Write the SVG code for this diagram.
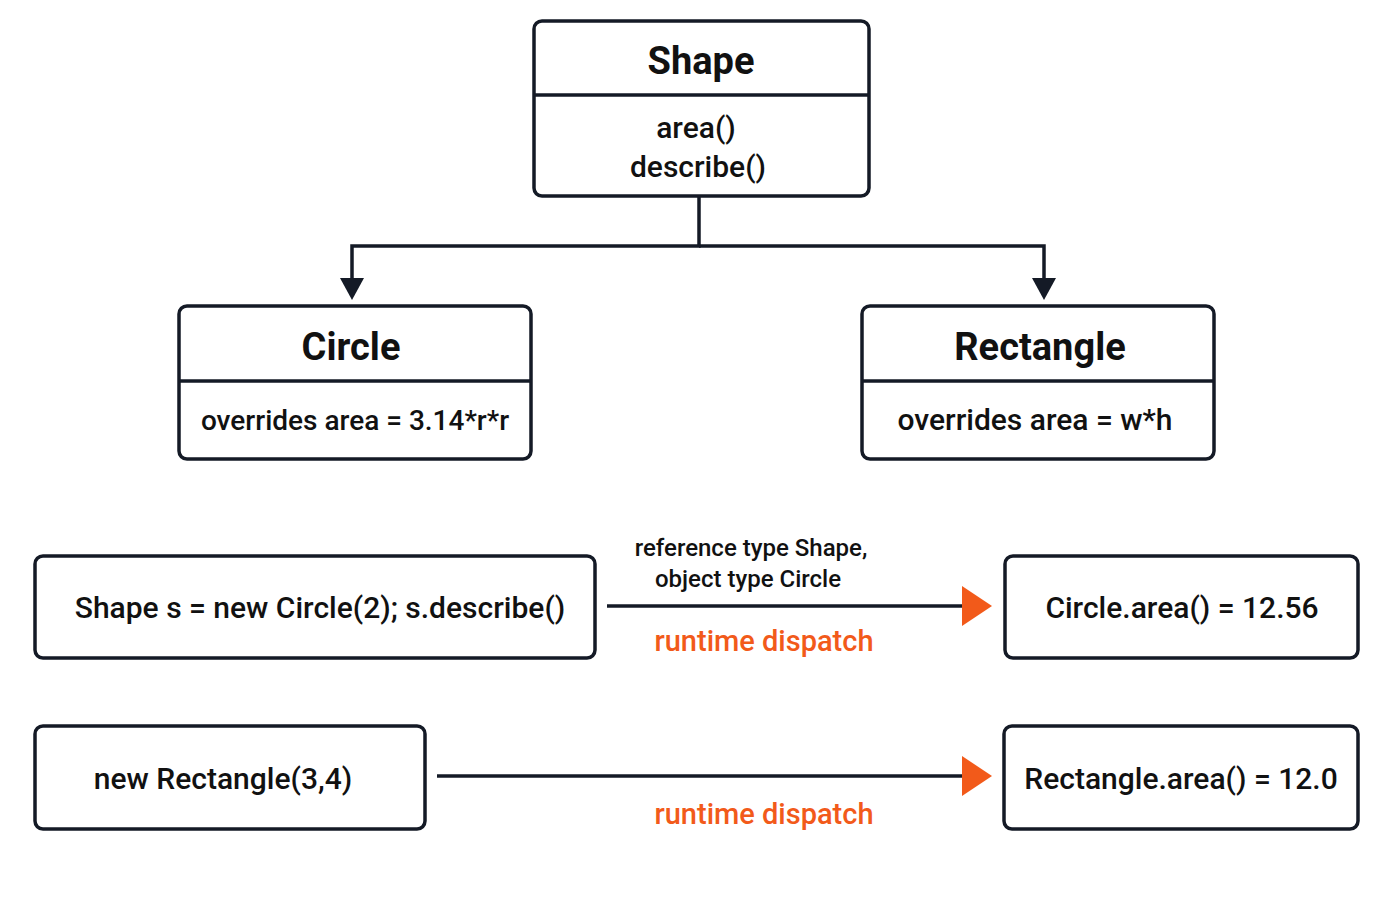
<svg xmlns="http://www.w3.org/2000/svg" width="1400" height="900" viewBox="0 0 1400 900">
<defs>
<style>
.box{fill:#fff;stroke:#141a26;stroke-width:3.5}
.ln{fill:none;stroke:#141a26;stroke-width:3.5}
text{font-family:Roboto,"Liberation Sans",sans-serif;fill:#111;text-anchor:middle;font-weight:500}
.t{font-size:38px;font-weight:700}
.m{font-size:30px}
.s{font-size:24px}
.o{fill:#f25a1a;font-size:29px}
</style>
</defs>
<rect width="1400" height="900" fill="#fff"/>
<g id="connectors">
<path class="ln" d="M699,196 V246 H352 V278"/>
<path class="ln" d="M699,246 H1044 V278"/>
<path d="M340,278 L364,278 L352,300 Z" fill="#141a26"/>
<path d="M1032,278 L1056,278 L1044,300 Z" fill="#141a26"/>
<line class="ln" x1="607" y1="606" x2="964" y2="606"/>
<path d="M962,586 L992,606 L962,626 Z" fill="#f25a1a"/>
<line class="ln" x1="437" y1="776" x2="964" y2="776"/>
<path d="M962,756 L992,776 L962,796 Z" fill="#f25a1a"/>
<text class="s" x="751" y="556">reference type Shape,</text>
<text class="s" x="748" y="587">object type Circle</text>
<text class="o" x="764" y="651">runtime dispatch</text>
<text class="o" x="764" y="824">runtime dispatch</text>
</g>
<g id="shape">
<rect class="box" x="534" y="21" width="335" height="175" rx="8"/>
<line class="ln" x1="534" y1="95" x2="869" y2="95"/>
<text class="t" x="701" y="74">Shape</text>
<text class="m" x="696" y="138">area()</text>
<text class="m" x="698" y="177">describe()</text>
</g>
<g id="circle">
<rect class="box" x="179" y="306" width="352" height="153" rx="8"/>
<line class="ln" x1="179" y1="381" x2="531" y2="381"/>
<text class="t" x="351" y="360">Circle</text>
<text class="m" x="355" y="430" style="font-size:28px">overrides area = 3.14*r*r</text>
</g>
<g id="rectangle">
<rect class="box" x="862" y="306" width="352" height="153" rx="8"/>
<line class="ln" x1="862" y1="381" x2="1214" y2="381"/>
<text class="t" x="1040" y="360">Rectangle</text>
<text class="m" x="1035" y="430">overrides area = w*h</text>
</g>
<g id="call1">
<rect class="box" x="35" y="556" width="560" height="102" rx="8"/>
<text class="m" x="320" y="618">Shape s = new Circle(2); s.describe()</text>
</g>
<g id="result1">
<rect class="box" x="1005" y="556" width="353" height="102" rx="8"/>
<text class="m" x="1182" y="618">Circle.area() = 12.56</text>
</g>
<g id="call2">
<rect class="box" x="35" y="726" width="390" height="103" rx="8"/>
<text class="m" x="223" y="789">new Rectangle(3,4)</text>
</g>
<g id="result2">
<rect class="box" x="1004" y="726" width="354" height="103" rx="8"/>
<text class="m" x="1181" y="789">Rectangle.area() = 12.0</text>
</g>
</svg>
